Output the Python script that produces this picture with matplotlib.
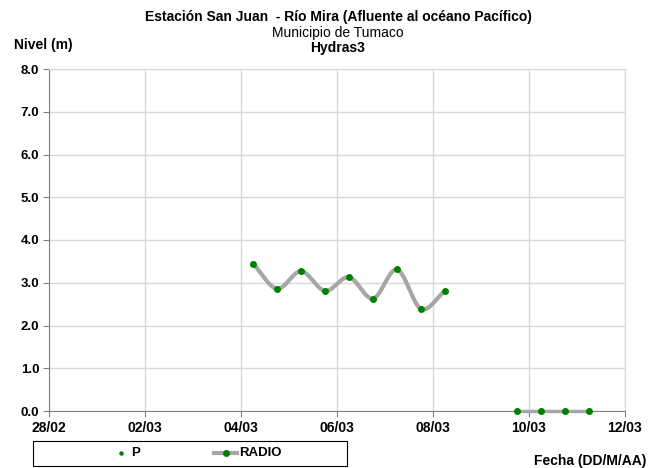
from datetime import datetime
import numpy as np
import matplotlib
matplotlib.use("Agg")
import matplotlib.pyplot as plt
import matplotlib.dates as mdates
from matplotlib.lines import Line2D
from matplotlib.patches import Rectangle

plt.rcParams["font.family"] = ["Liberation Sans", "DejaVu Sans"]

# --- data ---
radio_times = ["2015-03-04 06:00", "2015-03-04 18:00", "2015-03-05 06:00", "2015-03-05 18:00",
               "2015-03-06 06:00", "2015-03-06 18:00", "2015-03-07 06:00", "2015-03-07 18:00",
               "2015-03-08 06:00"]
radio_level = [3.45, 2.86, 3.27, 2.81, 3.13, 2.63, 3.31, 2.39, 2.81]

p_times = ["2015-03-09 18:00", "2015-03-10 06:00", "2015-03-10 18:00", "2015-03-11 06:00"]
p_level = [0.0, 0.0, 0.0, 0.0]

xticks = ["2015-02-28", "2015-03-02", "2015-03-04", "2015-03-06",
          "2015-03-08", "2015-03-10", "2015-03-12"]
yticks = [0, 1, 2, 3, 4, 5, 6, 7, 8]

GREEN = "#008000"
LINE = "#a6a6a6"
GRID = "#d9d9d9"


def to_num(lst):
    return mdates.date2num([datetime.strptime(s, "%Y-%m-%d %H:%M") if " " in s
                            else datetime.strptime(s, "%Y-%m-%d") for s in lst])


def smooth(x, y, n=30):
    # catmull-rom style smoothing, like Excel's "smoothed line"
    x = np.asarray(x, float)
    y = np.asarray(y, float)
    px = np.concatenate([[2 * x[0] - x[1]], x, [2 * x[-1] - x[-2]]])
    py = np.concatenate([[2 * y[0] - y[1]], y, [2 * y[-1] - y[-2]]])
    xs, ys = [], []
    t = np.linspace(0, 1, n)
    for i in range(1, len(px) - 2):
        for arr, out in ((px, xs), (py, ys)):
            p0, p1, p2, p3 = arr[i - 1], arr[i], arr[i + 1], arr[i + 2]
            out.extend(0.5 * ((2 * p1) + (-p0 + p2) * t
                              + (2 * p0 - 5 * p1 + 4 * p2 - p3) * t ** 2
                              + (-p0 + 3 * p1 - 3 * p2 + p3) * t ** 3))
    return np.array(xs), np.array(ys)


rx = to_num(radio_times)
px_ = to_num(p_times)
xt = to_num(xticks)

fig = plt.figure(figsize=(6.55, 4.68), dpi=100)
ax = fig.add_axes([49 / 655, 57 / 468, 576 / 655, 342 / 468])

ax.set_xlim(xt[0], xt[-1])
ax.set_ylim(0, 8)
ax.set_xticks(xt)
ax.set_xticklabels([datetime.strptime(s, "%Y-%m-%d").strftime("%d/%m") for s in xticks],
                   fontsize=10, fontweight="bold")
ax.set_yticks(yticks)
ax.set_yticklabels([f"{v:.1f}" for v in yticks], fontsize=9.5, fontweight="bold")
ax.grid(True, color=GRID, linewidth=1)
ax.set_axisbelow(True)
for s in ("top", "right"):
    ax.spines[s].set_color(GRID)
for s in ("left", "bottom"):
    ax.spines[s].set_color("#808080")
ax.tick_params(direction="out", length=4, color="#808080", pad=3)

sx, sy = smooth(rx, radio_level)
ax.plot(sx, sy, color=LINE, linewidth=3, solid_capstyle="round", zorder=3)
ax.plot(rx, radio_level, linestyle="none", marker="o", markersize=4, color=GREEN, zorder=4)

# flat radio segment at zero + P points
ax.plot(px_, p_level, color=LINE, linewidth=2.5, zorder=3, clip_on=False)
ax.plot(px_, p_level, linestyle="none", marker="o", markersize=4, color=GREEN,
        zorder=5, clip_on=False)

# titles
fig.text(338 / 655, 1 - 17 / 468, "Estación San Juan  - Río Mira (Afluente al océano Pacífico)",
         ha="center", va="center", fontsize=10, fontweight="bold")
fig.text(338 / 655, 1 - 33 / 468, "Municipio de Tumaco", ha="center", va="center", fontsize=10)
fig.text(338 / 655, 1 - 48 / 468, "Hydras3", ha="center", va="center", fontsize=10,
         fontweight="bold")
fig.text(14 / 655, 1 - 45 / 468, "Nivel (m)", ha="left", va="center", fontsize=10,
         fontweight="bold")
fig.text(646 / 655, 1 - 461 / 468, "Fecha (DD/M/AA)", ha="right", va="center", fontsize=10,
         fontweight="bold")

# legend box drawn by hand (figure pixel coords)
W, H = 655, 468
fig.add_artist(Rectangle((33 / W, 1 - 466 / H), 314 / W, 25 / H, transform=fig.transFigure,
                         facecolor="white", edgecolor="black", linewidth=0.8))
ly = 1 - 453 / H
fig.add_artist(Line2D([121 / W], [ly], marker="o", markersize=2.2, color=GREEN,
                      linestyle="none", transform=fig.transFigure))
fig.text(131 / W, ly, "P", ha="left", va="center", fontsize=9.5, fontweight="bold")
fig.add_artist(Line2D([214 / W, 237 / W], [ly, ly], color=LINE, linewidth=3,
                      transform=fig.transFigure))
fig.add_artist(Line2D([226 / W], [ly], marker="o", markersize=4, color=GREEN,
                      linestyle="none", transform=fig.transFigure))
fig.text(239 / W, ly, "RADIO", ha="left", va="center", fontsize=9.5, fontweight="bold")

fig.savefig("out.png", dpi=100)
